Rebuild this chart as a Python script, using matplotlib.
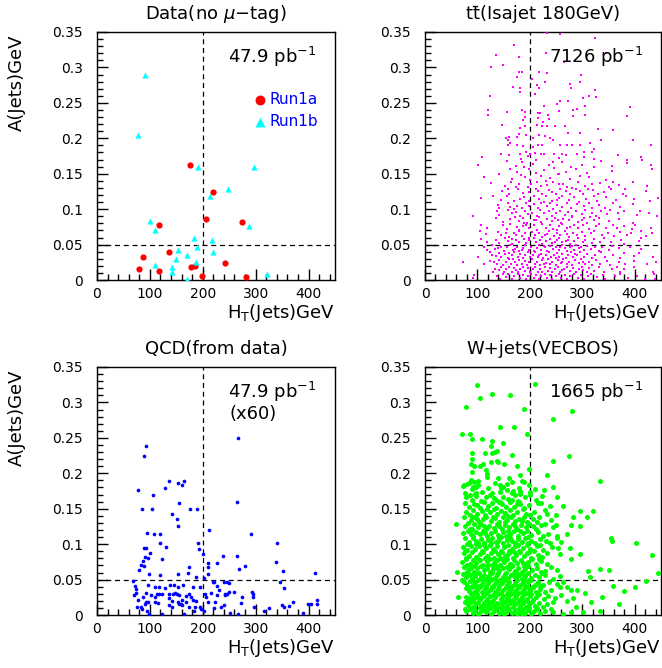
import matplotlib
matplotlib.use("Agg")
import matplotlib.pyplot as plt
from matplotlib.ticker import MultipleLocator, FormatStrFormatter

# --- Data (no mu-tag): Run1a / Run1b events ---
run1a_ht = [175, 220, 206, 274, 117, 137, 87, 243, 79, 118, 177, 185, 198, 282]
run1a_a = [0.163, 0.124, 0.086, 0.082, 0.077, 0.040, 0.033, 0.024, 0.016, 0.013, 0.019, 0.0195, 0.005, 0.004]

run1b_ht = [91, 77, 191, 297, 248, 214, 101, 110, 288, 184, 218, 189, 154, 220, 170, 149, 188, 110, 141, 141, 171, 321]
run1b_a = [0.290, 0.204, 0.160, 0.159, 0.129, 0.118, 0.083, 0.071, 0.076, 0.0595, 0.057, 0.047, 0.043, 0.040,
           0.035, 0.029, 0.026, 0.021, 0.019, 0.011, 0.001, 0.008]

# --- QCD from data (x60) ---
qcd_points = [
    (266, 0.2495), (92, 0.239), (89, 0.225), (77, 0.176), (136, 0.189), (153, 0.187), (165, 0.189), (161, 0.184),
    (129, 0.179), (106, 0.170), (86, 0.150), (104, 0.149), (155, 0.158), (142, 0.143), (151, 0.135), (153, 0.125),
    (175, 0.149), (190, 0.150), (264, 0.160), (212, 0.120), (94, 0.116), (107, 0.115), (119, 0.114), (292, 0.114),
    (120, 0.101), (131, 0.096), (89, 0.094), (92, 0.095), (191, 0.101), (193, 0.093), (200, 0.086), (341, 0.101),
    (101, 0.088), (90, 0.082), (96, 0.080), (87, 0.076), (83, 0.070), (89, 0.069), (79, 0.063), (123, 0.079),
    (239, 0.083), (264, 0.083), (209, 0.074), (227, 0.074), (209, 0.068), (338, 0.075), (174, 0.068), (268, 0.065),
    (279, 0.069), (352, 0.062), (153, 0.058), (172, 0.060), (99, 0.058), (119, 0.056), (210, 0.058), (187, 0.053),
    (413, 0.059), (202, 0.052), (68, 0.0476), (72, 0.041), (74, 0.037), (97, 0.043), (110, 0.039), (117, 0.040),
    (128, 0.038), (138, 0.042), (145, 0.043), (153, 0.040), (162, 0.042), (182, 0.039), (194, 0.040), (219, 0.046),
    (227, 0.041), (222, 0.047), (240, 0.047), (246, 0.047), (250, 0.045), (231, 0.036), (246, 0.029), (243, 0.028),
    (260, 0.033), (294, 0.032), (295, 0.030), (346, 0.047), (353, 0.038), (73, 0.031), (70, 0.028), (92, 0.031),
    (87, 0.026), (103, 0.028), (114, 0.030), (109, 0.026), (117, 0.029), (123, 0.029), (136, 0.029), (144, 0.030),
    (148, 0.031), (152, 0.029), (156, 0.028), (169, 0.027), (174, 0.029), (177, 0.026), (204, 0.029), (206, 0.026),
    (216, 0.031), (227, 0.028), (242, 0.030), (249, 0.032), (275, 0.026), (273, 0.017), (295, 0.025), (96, 0.019),
    (78, 0.021), (92, 0.018), (90, 0.016), (110, 0.019), (115, 0.017), (137, 0.024), (141, 0.020), (153, 0.019),
    (161, 0.021), (168, 0.019), (158, 0.016), (182, 0.021), (187, 0.020), (224, 0.019), (210, 0.019), (241, 0.014),
    (350, 0.014), (354, 0.012), (363, 0.013), (370, 0.018), (416, 0.021), (416, 0.015), (399, 0.015), (404, 0.016),
    (75, 0.011), (84, 0.012), (85, 0.008), (94, 0.006), (123, 0.002), (98, 0.001), (165, 0.002), (174, 0.011),
    (185, 0.011), (184, 0.006), (194, 0.012), (196, 0.008), (202, 0.006), (221, 0.010), (235, 0.011), (252, 0.003),
    (267, 0.002), (296, 0.011), (315, 0.006), (325, 0.010), (390, 0.003), (137, 0.014), (141, 0.012), (160, 0.014),
    (155, 0.015),
]

# --- ttbar (Isajet 180 GeV) ---
tt_points = [
    # upper, sparse part
    (232, 0.348), (257, 0.347), (325, 0.341), (170, 0.332), (135, 0.317), (180, 0.315), (230, 0.320), (265, 0.308),
    (346, 0.321), (126, 0.301), (148, 0.303), (180, 0.293), (185, 0.293), (217, 0.294), (232, 0.292), (229, 0.280),
    (175, 0.287), (204, 0.284), (297, 0.289), (296, 0.279), (213, 0.275), (217, 0.271), (167, 0.272), (181, 0.271),
    (276, 0.276), (279, 0.271), (325, 0.268), (124, 0.260), (181, 0.266), (209, 0.262), (302, 0.257), (313, 0.260),
    (327, 0.258), (257, 0.252), (251, 0.249), (272, 0.252), (227, 0.245), (305, 0.245), (289, 0.242), (390, 0.244),
    (120, 0.240), (120, 0.233), (156, 0.237), (184, 0.240), (190, 0.237), (215, 0.235), (220, 0.236), (255, 0.238),
    (283, 0.240), (283, 0.232), (306, 0.233), (385, 0.232), (190, 0.230), (186, 0.226), (234, 0.233), (237, 0.227),
    (247, 0.217), (216, 0.228), (225, 0.223), (146, 0.219), (181, 0.214), (190, 0.218), (213, 0.219), (224, 0.218),
    (232, 0.218), (267, 0.218), (272, 0.207), (295, 0.207), (329, 0.213), (359, 0.211), (155, 0.201), (161, 0.202),
    (158, 0.198), (176, 0.202), (180, 0.206), (192, 0.205), (206, 0.201), (218, 0.204), (228, 0.203), (239, 0.200),
    (245, 0.197), (314, 0.194), (335, 0.197), (397, 0.197), (158, 0.190), (162, 0.193), (175, 0.190), (187, 0.189),
    (206, 0.188), (216, 0.190), (224, 0.190), (257, 0.190), (270, 0.190), (280, 0.190), (296, 0.190), (323, 0.185),
    (430, 0.191), (145, 0.178), (181, 0.178), (192, 0.180), (200, 0.178), (209, 0.179), (222, 0.178), (246, 0.178),
    (261, 0.178), (289, 0.178), (304, 0.180), (319, 0.181),
    # 0.17 - 0.18
    (108, 0.173), (161, 0.176), (183, 0.171), (227, 0.178), (255, 0.172), (268, 0.177), (303, 0.174), (322, 0.171),
    (368, 0.176), (386, 0.170), (411, 0.173), (196, 0.175),
    # 0.16 - 0.17
    (101, 0.163), (157, 0.168), (173, 0.161), (184, 0.166), (205, 0.164), (212, 0.169), (236, 0.162), (262, 0.167),
    (299, 0.163), (335, 0.168), (357, 0.161), (386, 0.165), (414, 0.169), (431, 0.162), (244, 0.166), (279, 0.160),
    # 0.15 - 0.16
    (163, 0.157), (176, 0.152), (189, 0.159), (211, 0.151), (227, 0.155), (246, 0.158), (268, 0.153), (287, 0.156),
    (309, 0.151), (323, 0.159), (357, 0.154), (433, 0.157), (198, 0.156), (255, 0.150),
    # 0.14 - 0.15
    (113, 0.146), (141, 0.149), (166, 0.143), (183, 0.148), (201, 0.141), (221, 0.147), (239, 0.144), (253, 0.149),
    (277, 0.142), (296, 0.147), (312, 0.145), (345, 0.141), (231, 0.140), (190, 0.145),
    # 0.13 - 0.14
    (126, 0.137), (153, 0.133), (164, 0.139), (179, 0.135), (196, 0.131), (214, 0.138), (233, 0.134), (256, 0.136),
    (271, 0.131), (291, 0.139), (306, 0.133), (334, 0.137), (369, 0.134), (396, 0.139), (424, 0.132), (174, 0.131),
    (203, 0.136), (222, 0.132), (245, 0.139), (263, 0.135), (281, 0.130), (318, 0.136), (350, 0.131), (358, 0.138),
    # 0.12 - 0.13
    (147, 0.126), (161, 0.121), (178, 0.128), (199, 0.124), (211, 0.129), (224, 0.122), (237, 0.127), (249, 0.121),
    (268, 0.125), (288, 0.128), (301, 0.122), (320, 0.127), (341, 0.124), (355, 0.129), (377, 0.121), (421, 0.126),
    (159, 0.128), (186, 0.123), (216, 0.125), (242, 0.124), (258, 0.128), (276, 0.121), (296, 0.126), (310, 0.129),
    (329, 0.121), (382, 0.128),
    # 0.11 - 0.12
    (107, 0.116), (129, 0.118), (145, 0.113), (157, 0.119), (170, 0.112), (188, 0.117), (198, 0.111), (207, 0.119),
    (218, 0.114), (231, 0.118), (243, 0.111), (256, 0.116), (262, 0.119), (274, 0.113), (284, 0.117), (293, 0.110),
    (307, 0.115), (323, 0.119), (328, 0.112), (345, 0.117), (364, 0.113), (383, 0.118), (399, 0.114), (429, 0.111),
    (444, 0.116), (181, 0.114), (226, 0.110), (251, 0.113),
    # 0.10 - 0.11
    (139, 0.106), (142, 0.101), (158, 0.108), (163, 0.103), (176, 0.105), (185, 0.101), (192, 0.109), (199, 0.104),
    (208, 0.107), (216, 0.102), (222, 0.108), (233, 0.104), (245, 0.100), (252, 0.106), (261, 0.103), (270, 0.109),
    (278, 0.101), (290, 0.107), (303, 0.104), (312, 0.109), (318, 0.102), (331, 0.106), (344, 0.101), (359, 0.108),
    (372, 0.103), (397, 0.107), (169, 0.100), (238, 0.109),
    # 0.09 - 0.10
    (92, 0.091), (137, 0.097), (141, 0.092), (158, 0.099), (166, 0.094), (174, 0.096), (182, 0.091), (191, 0.098),
    (196, 0.093), (204, 0.095), (214, 0.091), (220, 0.099), (227, 0.094), (236, 0.097), (243, 0.090), (249, 0.095),
    (258, 0.098), (266, 0.092), (272, 0.096), (281, 0.090), (288, 0.097), (299, 0.093), (306, 0.099), (319, 0.095),
    (326, 0.091), (335, 0.097), (347, 0.093), (353, 0.099), (368, 0.094), (379, 0.097), (404, 0.092), (410, 0.098),
    (428, 0.095), (443, 0.091),
    # 0.08 - 0.09
    (135, 0.087), (148, 0.082), (163, 0.086), (171, 0.089), (179, 0.083), (187, 0.087), (195, 0.081), (207, 0.085),
    (218, 0.089), (221, 0.082), (233, 0.086), (242, 0.083), (247, 0.088), (259, 0.081), (263, 0.086), (275, 0.084),
    (280, 0.089), (291, 0.082), (304, 0.087), (309, 0.080), (322, 0.085), (332, 0.088), (351, 0.083), (369, 0.086),
    (396, 0.081), (189, 0.080), (212, 0.084), (253, 0.085), (299, 0.084), (315, 0.089),
    # 0.07 - 0.08
    (106, 0.078), (118, 0.074), (148, 0.077), (157, 0.072), (163, 0.079), (176, 0.075), (180, 0.071), (192, 0.078),
    (199, 0.073), (208, 0.077), (214, 0.071), (224, 0.079), (231, 0.074), (239, 0.077), (245, 0.072), (256, 0.076),
    (261, 0.079), (271, 0.073), (285, 0.078), (291, 0.074), (301, 0.077), (313, 0.072), (326, 0.076), (331, 0.079),
    (345, 0.074), (358, 0.078), (367, 0.073), (379, 0.076), (395, 0.072), (401, 0.078), (430, 0.074), (186, 0.076),
    (251, 0.070), (277, 0.075),
    # 0.06 - 0.07
    (104, 0.069), (116, 0.065), (139, 0.068), (145, 0.063), (155, 0.067), (161, 0.061), (169, 0.066), (180, 0.069),
    (185, 0.062), (191, 0.066), (198, 0.060), (204, 0.068), (210, 0.063), (218, 0.067), (223, 0.061), (233, 0.065),
    (237, 0.069), (246, 0.062), (252, 0.067), (258, 0.064), (266, 0.069), (275, 0.061), (282, 0.066), (290, 0.063),
    (299, 0.068), (306, 0.062), (316, 0.066), (322, 0.069), (338, 0.064), (348, 0.067), (361, 0.062), (372, 0.068),
    (385, 0.063), (393, 0.066), (412, 0.069), (421, 0.062), (433, 0.066), (174, 0.064), (228, 0.063), (270, 0.065),
    # 0.05 - 0.06
    (106, 0.058), (119, 0.054), (136, 0.057), (142, 0.052), (152, 0.059), (158, 0.055), (166, 0.051), (174, 0.057),
    (179, 0.053), (188, 0.058), (192, 0.052), (199, 0.056), (207, 0.059), (211, 0.053), (219, 0.057), (224, 0.051),
    (231, 0.055), (239, 0.058), (243, 0.052), (251, 0.056), (256, 0.059), (262, 0.053), (272, 0.057), (277, 0.051),
    (285, 0.055), (291, 0.059), (301, 0.053), (306, 0.057), (318, 0.052), (323, 0.058), (334, 0.054), (342, 0.059),
    (355, 0.053), (373, 0.057), (380, 0.051), (408, 0.055), (411, 0.059), (165, 0.058), (247, 0.054), (268, 0.055),
    # 0.04 - 0.05
    (113, 0.047), (118, 0.043), (128, 0.049), (134, 0.044), (145, 0.047), (150, 0.041), (157, 0.046), (163, 0.049),
    (167, 0.043), (176, 0.047), (179, 0.041), (186, 0.045), (191, 0.049), (198, 0.043), (202, 0.047), (208, 0.041),
    (213, 0.045), (218, 0.049), (222, 0.042), (229, 0.046), (233, 0.041), (238, 0.048), (244, 0.044), (249, 0.047),
    (255, 0.042), (261, 0.049), (266, 0.045), (271, 0.041), (276, 0.047), (284, 0.043), (288, 0.049), (294, 0.045),
    (303, 0.042), (309, 0.048), (316, 0.044), (325, 0.047), (331, 0.041), (338, 0.046), (351, 0.043), (357, 0.048),
    (369, 0.045), (390, 0.047), (412, 0.044), (140, 0.045), (171, 0.044), (184, 0.042), (226, 0.048), (258, 0.046),
    (281, 0.048), (298, 0.047),
    # 0.03 - 0.04
    (101, 0.033), (123, 0.039), (128, 0.035), (141, 0.038), (145, 0.032), (153, 0.037), (158, 0.031), (166, 0.035),
    (170, 0.039), (177, 0.033), (182, 0.037), (186, 0.031), (191, 0.035), (196, 0.039), (201, 0.032), (205, 0.036),
    (210, 0.039), (215, 0.033), (221, 0.037), (225, 0.031), (231, 0.035), (236, 0.039), (240, 0.032), (246, 0.036),
    (251, 0.038), (256, 0.033), (262, 0.037), (268, 0.031), (273, 0.035), (278, 0.039), (283, 0.032), (290, 0.036),
    (296, 0.039), (303, 0.033), (309, 0.037), (318, 0.031), (325, 0.036), (336, 0.039), (344, 0.033), (358, 0.036),
    (372, 0.031), (380, 0.038), (398, 0.034), (408, 0.038), (434, 0.032), (135, 0.034), (161, 0.038), (218, 0.035),
    (249, 0.031), (286, 0.037),
    # 0.02 - 0.03
    (73, 0.026), (113, 0.022), (124, 0.027), (137, 0.023), (142, 0.028), (148, 0.021), (155, 0.025), (161, 0.029),
    (164, 0.022), (171, 0.026), (176, 0.021), (180, 0.028), (185, 0.023), (190, 0.027), (195, 0.021), (199, 0.025),
    (204, 0.029), (209, 0.022), (214, 0.026), (220, 0.021), (224, 0.028), (230, 0.024), (234, 0.029), (239, 0.022),
    (243, 0.026), (249, 0.021), (253, 0.028), (259, 0.024), (264, 0.029), (270, 0.022), (275, 0.026), (281, 0.021),
    (286, 0.028), (293, 0.024), (298, 0.029), (306, 0.022), (313, 0.026), (319, 0.021), (327, 0.028), (333, 0.023),
    (347, 0.027), (353, 0.021), (370, 0.025), (382, 0.022), (399, 0.027), (423, 0.023), (441, 0.025), (132, 0.025),
    (168, 0.029), (227, 0.023), (262, 0.025), (301, 0.026),
    # 0.01 - 0.02
    (129, 0.012), (134, 0.016), (145, 0.019), (150, 0.011), (155, 0.015), (161, 0.019), (166, 0.012), (170, 0.017),
    (177, 0.011), (181, 0.016), (186, 0.019), (190, 0.013), (196, 0.017), (201, 0.011), (205, 0.015), (210, 0.019),
    (215, 0.012), (219, 0.016), (224, 0.011), (229, 0.018), (234, 0.013), (239, 0.017), (243, 0.011), (248, 0.015),
    (254, 0.019), (258, 0.012), (265, 0.016), (271, 0.019), (276, 0.013), (282, 0.017), (288, 0.011), (294, 0.015),
    (300, 0.019), (308, 0.012), (313, 0.017), (322, 0.013), (331, 0.019), (341, 0.012), (356, 0.015), (366, 0.018),
    (372, 0.011), (379, 0.016), (398, 0.018), (434, 0.012), (141, 0.014), (174, 0.014), (262, 0.014), (302, 0.014),
    # 0.00 - 0.01
    (92, 0.003), (93, 0.007), (137, 0.006), (143, 0.002), (148, 0.008), (155, 0.004), (159, 0.009), (166, 0.002),
    (170, 0.006), (177, 0.009), (181, 0.003), (186, 0.007), (192, 0.001), (197, 0.005), (203, 0.009), (207, 0.003),
    (212, 0.007), (217, 0.002), (222, 0.006), (228, 0.009), (233, 0.003), (238, 0.007), (243, 0.001), (249, 0.005),
    (255, 0.009), (260, 0.003), (266, 0.007), (271, 0.002), (277, 0.006), (285, 0.009), (291, 0.003), (297, 0.007),
    (303, 0.002), (311, 0.006), (317, 0.009), (328, 0.004), (339, 0.007), (344, 0.002), (362, 0.005), (372, 0.008),
    (388, 0.003), (404, 0.006), (419, 0.002), (436, 0.008), (438, 0.001),
]

# --- W+jets (VECBOS) ---
w_points = [
    # upper and right-hand sparse events
    (100, 0.325), (209, 0.326), (105, 0.306), (127, 0.312), (162, 0.311), (79, 0.293), (189, 0.291), (281, 0.288),
    (244, 0.276), (143, 0.265), (170, 0.266), (71, 0.255), (86, 0.256), (194, 0.256), (90, 0.248), (109, 0.248),
    (126, 0.239), (128, 0.245), (148, 0.243), (137, 0.232), (134, 0.230), (114, 0.229), (128, 0.229), (89, 0.229),
    (165, 0.226), (90, 0.220), (87, 0.213), (93, 0.210), (105, 0.211), (111, 0.213), (126, 0.216), (137, 0.218),
    (140, 0.216), (150, 0.213), (175, 0.210), (244, 0.217), (275, 0.225), (90, 0.202), (117, 0.205), (119, 0.199),
    (181, 0.198), (184, 0.189), (198, 0.206), (232, 0.198), (80, 0.185), (84, 0.186), (93, 0.188), (101, 0.189),
    (157, 0.185), (165, 0.188), (333, 0.189), (74, 0.184), (92, 0.180), (98, 0.180), (90, 0.178), (144, 0.179),
    (179, 0.179), (244, 0.180), (77, 0.172), (97, 0.172), (143, 0.173), (165, 0.172), (181, 0.175), (200, 0.173),
    (222, 0.158), (263, 0.154), (232, 0.142), (249, 0.141), (282, 0.139), (295, 0.147), (321, 0.147), (308, 0.139),
    (295, 0.125), (278, 0.127), (249, 0.127), (229, 0.129), (270, 0.115), (252, 0.112), (355, 0.108), (357, 0.104),
    (402, 0.102), (432, 0.085), (276, 0.094), (295, 0.086), (279, 0.079), (260, 0.103), (254, 0.095), (333, 0.065),
    (351, 0.063), (311, 0.062), (314, 0.053), (359, 0.041), (379, 0.034), (400, 0.040), (422, 0.048), (445, 0.060),
    (337, 0.026), (369, 0.016), (333, 0.0055), (317, 0.019), (305, 0.031), (279, 0.036), (282, 0.024), (287, 0.012),
    (301, 0.004), (289, 0.035), (263, 0.046), (257, 0.040), (60, 0.129), (63, 0.026), (61, 0.061), (76, 0.008),
    (71, 0.049),
    # 0.17 - 0.20
    (73, 0.182), (88, 0.191), (102, 0.183), (121, 0.179), (133, 0.187), (143, 0.184), (156, 0.176), (161, 0.193),
    (181, 0.171), (199, 0.184), (210, 0.178), (109, 0.174), (95, 0.171), (118, 0.195), (127, 0.172), (148, 0.181),
    (168, 0.175), (188, 0.188), (226, 0.176), (139, 0.193),
    # 0.16 - 0.17
    (78, 0.167), (89, 0.163), (97, 0.168), (107, 0.161), (116, 0.166), (124, 0.169), (136, 0.162), (148, 0.167),
    (158, 0.164), (171, 0.169), (178, 0.161), (191, 0.166), (211, 0.163), (224, 0.168), (252, 0.166), (85, 0.169),
    (131, 0.165), (143, 0.160), (165, 0.163), (201, 0.169),
    # 0.15 - 0.16
    (77, 0.158), (84, 0.152), (94, 0.157), (104, 0.151), (112, 0.159), (121, 0.154), (128, 0.158), (135, 0.151),
    (146, 0.156), (154, 0.152), (163, 0.159), (170, 0.153), (182, 0.157), (188, 0.151), (198, 0.155), (215, 0.158),
    (239, 0.154), (100, 0.155), (141, 0.159), (176, 0.156),
    # 0.14 - 0.15
    (79, 0.146), (91, 0.148), (99, 0.143), (108, 0.147), (115, 0.141), (123, 0.146), (131, 0.149), (138, 0.142),
    (145, 0.147), (153, 0.144), (163, 0.148), (167, 0.141), (176, 0.145), (186, 0.149), (193, 0.143), (208, 0.146),
    (229, 0.148), (86, 0.141), (119, 0.149), (159, 0.140), (201, 0.141),
    # 0.13 - 0.14
    (75, 0.139), (87, 0.134), (94, 0.138), (103, 0.131), (110, 0.136), (117, 0.139), (126, 0.133), (134, 0.137),
    (141, 0.131), (149, 0.138), (157, 0.134), (164, 0.139), (172, 0.132), (180, 0.136), (189, 0.139), (195, 0.131),
    (206, 0.135), (218, 0.138), (240, 0.134), (82, 0.130), (99, 0.136), (129, 0.139), (153, 0.131), (185, 0.133),
    (214, 0.131),
    # 0.12 - 0.13
    (77, 0.126), (85, 0.122), (93, 0.128), (101, 0.124), (107, 0.129), (116, 0.121), (122, 0.126), (131, 0.123),
    (137, 0.128), (146, 0.121), (152, 0.127), (160, 0.124), (168, 0.129), (176, 0.122), (183, 0.127), (193, 0.124),
    (199, 0.129), (211, 0.122), (222, 0.127), (245, 0.124), (90, 0.121), (112, 0.125), (141, 0.125), (172, 0.126),
    (205, 0.125),
    # 0.11 - 0.12
    (73, 0.116), (82, 0.119), (91, 0.112), (98, 0.117), (104, 0.114), (111, 0.119), (119, 0.111), (125, 0.116),
    (133, 0.119), (140, 0.113), (148, 0.117), (155, 0.111), (163, 0.115), (170, 0.119), (177, 0.112), (186, 0.116),
    (194, 0.119), (203, 0.113), (216, 0.117), (234, 0.114), (88, 0.115), (114, 0.116), (144, 0.110), (159, 0.118),
    (181, 0.119), (197, 0.110), (225, 0.111),
    # 0.10 - 0.11
    (76, 0.108), (84, 0.103), (92, 0.109), (97, 0.104), (106, 0.107), (113, 0.101), (120, 0.106), (128, 0.109),
    (135, 0.103), (142, 0.108), (149, 0.101), (156, 0.106), (163, 0.109), (171, 0.102), (178, 0.107), (185, 0.103),
    (191, 0.109), (202, 0.105), (210, 0.101), (219, 0.107), (231, 0.104), (251, 0.108), (80, 0.100), (101, 0.101),
    (125, 0.102), (139, 0.105), (166, 0.104), (196, 0.101), (239, 0.101),
    # 0.09 - 0.10
    (73, 0.096), (81, 0.092), (88, 0.098), (95, 0.093), (103, 0.097), (109, 0.091), (116, 0.095), (123, 0.099),
    (130, 0.093), (137, 0.097), (144, 0.091), (151, 0.096), (158, 0.099), (165, 0.093), (172, 0.097), (180, 0.091),
    (187, 0.095), (194, 0.099), (201, 0.093), (213, 0.097), (225, 0.092), (243, 0.096), (77, 0.090), (98, 0.100),
    (113, 0.099), (134, 0.090), (161, 0.090), (177, 0.099), (207, 0.090), (219, 0.099),
    # 0.08 - 0.09
    (75, 0.088), (83, 0.084), (90, 0.089), (97, 0.082), (104, 0.086), (110, 0.089), (118, 0.083), (125, 0.087),
    (132, 0.081), (139, 0.086), (146, 0.089), (153, 0.083), (160, 0.087), (167, 0.081), (174, 0.085), (181, 0.089),
    (188, 0.083), (195, 0.087), (203, 0.081), (216, 0.085), (232, 0.088), (257, 0.086), (79, 0.081), (100, 0.080),
    (121, 0.080), (143, 0.080), (156, 0.085), (170, 0.089), (199, 0.089), (224, 0.082),
    # 0.07 - 0.08
    (70, 0.075), (78, 0.079), (85, 0.072), (91, 0.077), (98, 0.073), (105, 0.078), (111, 0.071), (118, 0.076),
    (124, 0.079), (131, 0.073), (137, 0.077), (143, 0.071), (150, 0.075), (157, 0.079), (163, 0.072), (170, 0.077),
    (176, 0.073), (183, 0.078), (190, 0.071), (197, 0.075), (204, 0.079), (211, 0.072), (222, 0.076), (233, 0.072),
    (81, 0.070), (95, 0.070), (114, 0.080), (128, 0.070), (147, 0.079), (166, 0.070), (186, 0.074), (218, 0.079),
    # 0.06 - 0.07
    (75, 0.068), (82, 0.063), (88, 0.067), (94, 0.061), (100, 0.066), (106, 0.069), (112, 0.063), (118, 0.067),
    (124, 0.061), (130, 0.065), (136, 0.069), (142, 0.062), (148, 0.066), (154, 0.060), (160, 0.065), (166, 0.069),
    (172, 0.062), (178, 0.067), (185, 0.061), (191, 0.065), (197, 0.069), (204, 0.063), (214, 0.067), (229, 0.062),
    (241, 0.068), (251, 0.064), (78, 0.060), (91, 0.069), (103, 0.060), (121, 0.070), (139, 0.065), (157, 0.068),
    (175, 0.060), (188, 0.069), (221, 0.061),
    # 0.05 - 0.06
    (73, 0.058), (79, 0.053), (85, 0.057), (90, 0.051), (96, 0.055), (101, 0.059), (107, 0.053), (112, 0.057),
    (117, 0.051), (122, 0.055), (127, 0.059), (133, 0.052), (138, 0.056), (143, 0.050), (148, 0.054), (153, 0.058),
    (159, 0.052), (164, 0.056), (169, 0.060), (174, 0.053), (179, 0.057), (185, 0.051), (190, 0.055), (196, 0.059),
    (203, 0.052), (210, 0.057), (218, 0.053), (229, 0.056), (244, 0.051), (257, 0.055), (82, 0.060), (93, 0.059),
    (110, 0.050), (125, 0.051), (140, 0.059), (156, 0.050), (171, 0.054), (187, 0.058), (199, 0.050), (224, 0.059),
    # 0.04 - 0.05
    (74, 0.047), (80, 0.043), (86, 0.048), (91, 0.042), (96, 0.046), (101, 0.049), (106, 0.043), (111, 0.047),
    (116, 0.041), (121, 0.045), (126, 0.049), (131, 0.043), (136, 0.047), (141, 0.041), (146, 0.045), (151, 0.049),
    (156, 0.043), (161, 0.047), (166, 0.041), (171, 0.045), (176, 0.049), (181, 0.043), (186, 0.047), (191, 0.041),
    (197, 0.046), (203, 0.049), (209, 0.043), (216, 0.047), (225, 0.042), (236, 0.046), (251, 0.044), (83, 0.040),
    (99, 0.041), (113, 0.050), (128, 0.040), (143, 0.048), (158, 0.040), (174, 0.042), (189, 0.050), (206, 0.040),
    (219, 0.041),
    # 0.03 - 0.04
    (79, 0.038), (84, 0.034), (89, 0.039), (94, 0.032), (99, 0.036), (104, 0.039), (109, 0.033), (114, 0.037),
    (119, 0.031), (124, 0.035), (129, 0.039), (134, 0.033), (139, 0.037), (144, 0.031), (149, 0.035), (154, 0.039),
    (159, 0.033), (164, 0.037), (169, 0.031), (174, 0.035), (179, 0.039), (184, 0.033), (189, 0.037), (194, 0.031),
    (200, 0.035), (206, 0.039), (212, 0.033), (219, 0.037), (228, 0.032), (240, 0.036), (270, 0.039), (87, 0.030),
    (97, 0.040), (117, 0.040), (137, 0.030), (157, 0.030), (177, 0.031), (197, 0.039), (215, 0.030),
    # 0.02 - 0.03
    (79, 0.026), (84, 0.022), (89, 0.028), (94, 0.024), (99, 0.029), (104, 0.022), (109, 0.026), (114, 0.029),
    (119, 0.023), (124, 0.027), (129, 0.021), (134, 0.025), (139, 0.029), (144, 0.023), (149, 0.027), (154, 0.021),
    (159, 0.025), (164, 0.029), (169, 0.023), (174, 0.027), (179, 0.021), (184, 0.025), (189, 0.029), (194, 0.023),
    (200, 0.027), (206, 0.021), (212, 0.025), (218, 0.029), (226, 0.023), (235, 0.027), (248, 0.024), (260, 0.028),
    (81, 0.020), (91, 0.020), (101, 0.025), (116, 0.020), (131, 0.029), (146, 0.020), (161, 0.021), (171, 0.029),
    (186, 0.020), (203, 0.029),
    # 0.01 - 0.02
    (76, 0.018), (82, 0.014), (87, 0.019), (92, 0.012), (97, 0.016), (102, 0.019), (107, 0.013), (112, 0.017),
    (117, 0.011), (122, 0.015), (127, 0.019), (132, 0.013), (137, 0.017), (142, 0.011), (147, 0.015), (152, 0.019),
    (157, 0.013), (162, 0.017), (167, 0.011), (172, 0.015), (177, 0.019), (182, 0.013), (187, 0.017), (192, 0.011),
    (198, 0.015), (204, 0.019), (210, 0.013), (217, 0.017), (225, 0.012), (233, 0.016), (244, 0.019), (270, 0.020),
    (90, 0.010), (105, 0.010), (120, 0.020), (135, 0.010), (150, 0.010), (165, 0.020), (180, 0.010), (195, 0.020),
    (214, 0.010),
    # 0.00 - 0.01
    (79, 0.005), (86, 0.008), (91, 0.003), (96, 0.007), (101, 0.002), (106, 0.006), (111, 0.009), (116, 0.004),
    (121, 0.008), (126, 0.002), (131, 0.006), (136, 0.009), (141, 0.003), (146, 0.007), (151, 0.001), (156, 0.005),
    (161, 0.009), (166, 0.003), (171, 0.007), (176, 0.001), (181, 0.005), (186, 0.009), (191, 0.003), (196, 0.007),
    (202, 0.002), (208, 0.006), (214, 0.009), (220, 0.003), (229, 0.006), (241, 0.009), (244, 0.004), (263, 0.002),
    (279, 0.004), (94, 0.010), (124, 0.010), (154, 0.010), (184, 0.001), (199, 0.010),
]

qcd_ht, qcd_a = zip(*qcd_points)
tt_ht, tt_a = zip(*tt_points)
w_ht, w_a = zip(*w_points)

ht_cut = 200
a_cut = 0.05

plt.rcParams['font.family'] = ['DejaVu Sans']
fig = plt.figure(figsize=(6.62, 6.68), dpi=100)

# axes boxes in figure fractions: [left, bottom, width, height]
ax_tl = fig.add_axes([0.1465, 0.5808, 0.3595, 0.3713])
ax_tr = fig.add_axes([0.642, 0.5808, 0.3565, 0.3713])
ax_bl = fig.add_axes([0.1465, 0.0793, 0.3595, 0.3713])
ax_br = fig.add_axes([0.642, 0.0793, 0.3565, 0.3713])


def style_axes(ax, title, left):
    ax.set_xlim(0, 450)
    ax.set_ylim(0, 0.35)
    ax.xaxis.set_major_locator(MultipleLocator(100))
    ax.xaxis.set_minor_locator(MultipleLocator(20))
    ax.yaxis.set_major_locator(MultipleLocator(0.05))
    ax.yaxis.set_minor_locator(MultipleLocator(0.01))
    ax.yaxis.set_major_formatter(FormatStrFormatter('%g'))
    ax.tick_params(which='both', direction='in', top=False, right=False, width=1.0,
                   color='black', labelsize=10)
    ax.tick_params(which='major', length=8)
    ax.tick_params(which='minor', length=4)
    ax.tick_params(axis='y', which='major', pad=10)
    ax.tick_params(axis='x', which='major', pad=5)
    for sp in ax.spines.values():
        sp.set_linewidth(1.0)
    ax.axvline(ht_cut, color='black', lw=0.9, ls=(0, (4, 3)), zorder=1)
    ax.axhline(a_cut, color='black', lw=0.9, ls=(0, (4, 3)), zorder=1)
    ax.set_title(title, fontsize=13, pad=9)
    ax.set_xlabel(r'H$_{\rm T}$(Jets)GeV', fontsize=13, loc='right')
    ax.xaxis.set_label_coords(1.0, -0.088)
    if left:
        ax.set_ylabel('A(Jets)GeV', fontsize=13, loc='top')
        ax.yaxis.set_label_coords(-0.30, 0.99)


style_axes(ax_tl, r'Data(no $\mu$$-$tag)', True)
style_axes(ax_tr, 't\u0074\u0304(Isajet 180GeV)', False)
style_axes(ax_bl, 'QCD(from data)', True)
style_axes(ax_br, 'W+jets(VECBOS)', False)

# data panel
ax_tl.scatter(run1a_ht, run1a_a, s=20, color='red', marker='o', linewidths=0, label='Run1a', zorder=3)
ax_tl.scatter(run1b_ht, run1b_a, s=20, color='cyan', marker='^', linewidths=0, label='Run1b', zorder=3)
ax_tl.legend(loc='upper left', bbox_to_anchor=(0.59, 0.79), frameon=False, fontsize=11,
             labelcolor='blue', handletextpad=-0.4, borderpad=0, labelspacing=0.45, markerscale=1.6)
ax_tl.text(0.92, 0.875, '47.9 pb$^{-1}$', transform=ax_tl.transAxes, ha='right', va='baseline', fontsize=13)

# ttbar monte carlo
ax_tr.scatter(tt_ht, tt_a, s=4, color='magenta', marker='s', linewidths=0, zorder=3)
ax_tr.text(0.925, 0.875, '7126 pb$^{-1}$', transform=ax_tr.transAxes, ha='right', va='baseline', fontsize=13)

# QCD background
ax_bl.scatter(qcd_ht, qcd_a, s=7, color='blue', marker='o', linewidths=0, zorder=3)
ax_bl.text(0.92, 0.875, '47.9 pb$^{-1}$', transform=ax_bl.transAxes, ha='right', va='baseline', fontsize=13)
ax_bl.text(0.555, 0.79, '(x60)', transform=ax_bl.transAxes, ha='left', va='baseline', fontsize=13)

# W+jets background
ax_br.scatter(w_ht, w_a, s=13, color='#00ff00', marker='o', linewidths=0, zorder=3)
ax_br.text(0.925, 0.875, '1665 pb$^{-1}$', transform=ax_br.transAxes, ha='right', va='baseline', fontsize=13)

plt.savefig('out.png', dpi=100)
